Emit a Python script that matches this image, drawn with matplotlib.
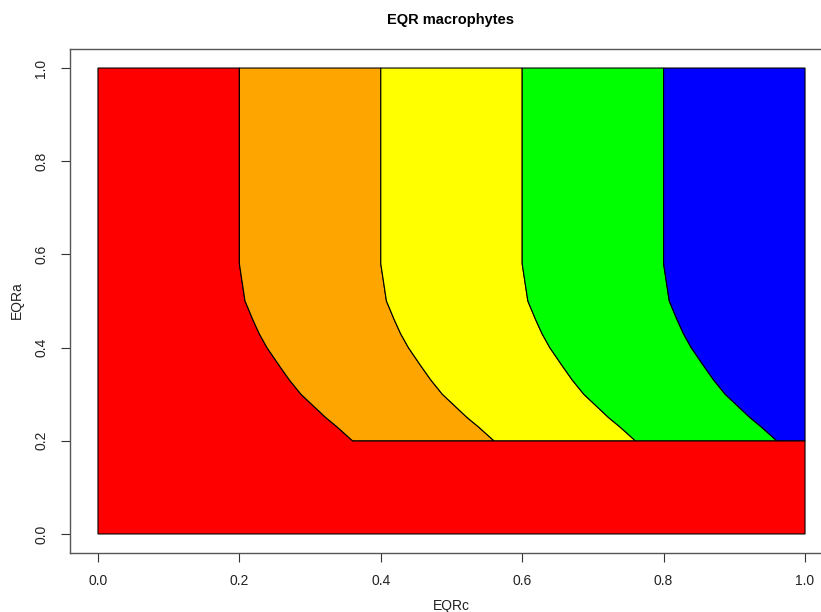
import matplotlib
matplotlib.use("Agg")
import matplotlib.pyplot as plt
import numpy as np

plt.rcParams['font.family'] = ['Liberation Sans', 'DejaVu Sans']

# class limits on EQRc (top part, EQRa >= 0.58)
class_breaks = [0.2, 0.4, 0.6, 0.8]
class_colors = ["red", "orange", "yellow", "lime", "blue"]

# shape of the class boundary: EQRa and x shift from the break
curve_y = [1.0, 0.58, 0.50, 0.46, 0.43, 0.40, 0.36, 0.33, 0.30, 0.27, 0.25, 0.23, 0.20]
curve_dx = [0.0, 0.0, 0.008, 0.019, 0.028, 0.039, 0.057, 0.071, 0.087, 0.108, 0.122, 0.138, 0.160]
floor_a = 0.2  # below this EQRa everything is red

tick_vals = [0.0, 0.2, 0.4, 0.6, 0.8, 1.0]
tick_labels = ["0.0", "0.2", "0.4", "0.6", "0.8", "1.0"]

fig = plt.figure(figsize=(8.21, 6.12), dpi=100)
W, H = 821, 612
# plot box in pixels (R style, 4% padding, right edge cropped)
bx0, bx1, by0, by1 = 69.7, 833.3, 49.4, 552.6
ax = fig.add_axes([bx0 / W, 1 - by1 / H, (bx1 - bx0) / W, (by1 - by0) / H])
ax.set_xlim(-0.04, 1.04)
ax.set_ylim(-0.04, 1.04)

cy = np.array(curve_y)
cdx = np.array(curve_dx)
lines = [b + cdx for b in class_breaks]

edge = dict(edgecolor="black", linewidth=0.8)

# red: left of first boundary plus bottom band
red_x = [0, 1, 1] + list(lines[0][::-1]) + [0]
red_y = [0, 0, floor_a] + list(cy[::-1]) + [1]
ax.fill(red_x, red_y, facecolor=class_colors[0], **edge)

for i in range(len(class_breaks)):
    left_x = lines[i]
    if i + 1 < len(class_breaks):
        px = list(left_x) + list(lines[i + 1][::-1])
        py = list(cy) + list(cy[::-1])
    else:
        px = list(left_x) + [1, 1]
        py = list(cy) + [floor_a, 1]
    ax.fill(px, py, facecolor=class_colors[i + 1], **edge)

for s in ax.spines.values():
    s.set_color("#555555")
    s.set_linewidth(1.0)

ax.set_xticks(tick_vals)
ax.set_xticklabels(tick_labels)
ax.set_yticks(tick_vals)
ax.set_yticklabels(tick_labels, rotation=90, va="center")
ax.tick_params(axis="both", direction="out", length=6.5, width=0.8,
               color="#333333", labelsize=10, labelcolor="#222222")
ax.tick_params(axis="x", pad=9)
ax.tick_params(axis="y", pad=9)

fig.text(450 / W, 1 - 20 / H, "EQR macrophytes", ha="center", va="center",
         fontsize=10.5, fontweight="bold")
fig.text(451 / W, 1 - 606 / H, "EQRc", ha="center", va="center", fontsize=10,
         color="#222222")
fig.text(17 / W, 1 - 300 / H, "EQRa", ha="center", va="center", fontsize=10,
         rotation=90, color="#222222")

fig.savefig("out.png", dpi=100)
